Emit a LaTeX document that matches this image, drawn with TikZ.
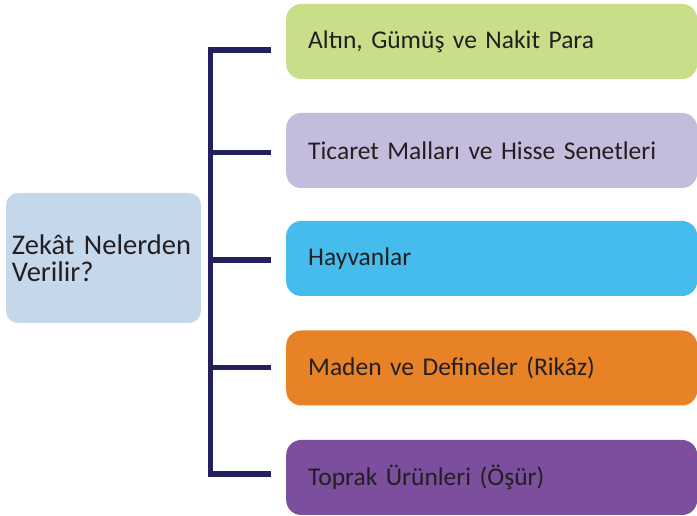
\documentclass[tikz,border=0pt]{standalone}
\usepackage{fontspec}
\setmainfont[WordSpace=0.85]{Carlito}
\definecolor{txt}{HTML}{231F20}
\definecolor{cLeft}{HTML}{C5D7EB}
\definecolor{cGreen}{HTML}{C9DE89}
\definecolor{cLav}{HTML}{C3BCDD}
\definecolor{cBlue}{HTML}{45BCEC}
\definecolor{cOrange}{HTML}{E88226}
\definecolor{cPurple}{HTML}{7B4E9E}
\definecolor{cLine}{HTML}{24205E}
\tikzset{
  item/.style={rectangle, rounded corners=15pt, minimum width=411pt, minimum height=75pt,
    anchor=west, text width=367pt, align=left, inner xsep=22pt, text=txt,
    font=\fontsize{25.5}{30}\selectfont},
  mainbox/.style={rectangle, rounded corners=12pt, fill=cLeft, minimum width=195pt, minimum height=130pt,
    text width=183pt, align=left, inner xsep=6pt, text=txt, font=\fontsize{28.5}{27}\selectfont},
  bar/.style={draw=cLine, line width=5.5pt, line join=miter}
}
\begin{document}
\begin{tikzpicture}[x=1pt,y=1pt]
\useasboundingbox (0,0) rectangle (697,516);
\node[mainbox] (main) at (103.5,258) {Zekât Nelerden\\Verilir?};
\node[item, fill=cGreen] (i1) at (286,474.5) {Altın, Gümüş ve Nakit Para};
\node[item, fill=cLav] (i2) at (286,365.5) {Ticaret Malları ve Hisse Senetleri};
\node[item, fill=cBlue] (i3) at (286,257.5) {Hayvanlar};
\node[item, fill=cOrange] (i4) at (286,148) {Maden ve Defineler (Rikâz)};
\node[item, fill=cPurple] (i5) at (286,38.5) {Toprak Ürünleri (Öşür)};
\coordinate (j1) at (210.5,466);
\coordinate (j2) at (210.5,363.3);
\coordinate (j3) at (210.5,256);
\coordinate (j4) at (210.5,148.3);
\coordinate (j5) at (210.5,42);
\coordinate (t1) at (271,466);
\coordinate (t2) at (271,363.3);
\coordinate (t3) at (271,256);
\coordinate (t4) at (271,148.3);
\coordinate (t5) at (271,42);
\draw[bar] (t1) -- (j1) -- (j5) -- (t5);
\draw[bar] (j2) -- (t2);
\draw[bar] (j3) -- (t3);
\draw[bar] (j4) -- (t4);
\end{tikzpicture}
\end{document}
